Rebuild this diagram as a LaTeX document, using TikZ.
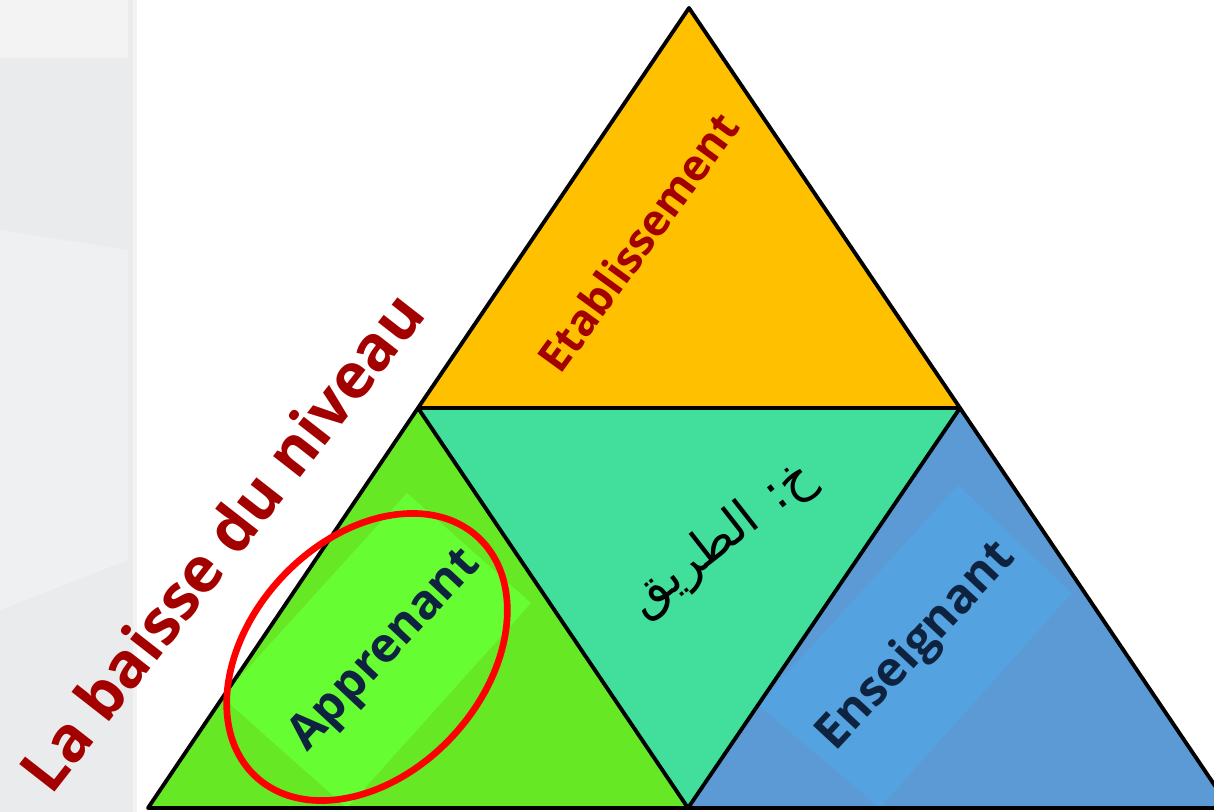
\documentclass[tikz,border=0pt]{standalone}
\usepackage{fontspec}
\setmainfont{Open Sans}
\newfontfamily\arabicfont[Script=Arabic]{DejaVu Sans}
\TeXXeTstate=1
\usetikzlibrary{shapes.geometric}
\definecolor{orangeT}{HTML}{FFC000}
\definecolor{tealT}{HTML}{41DF9B}
\definecolor{greenT}{HTML}{66E825}
\definecolor{greenD}{HTML}{66FD33}
\definecolor{blueT}{HTML}{5B9AD5}
\definecolor{blueD}{HTML}{55A2E0}
\definecolor{darkred}{HTML}{A30000}
\definecolor{navy}{HTML}{0E2340}
\definecolor{panel}{HTML}{EAEBED}
\definecolor{panelL}{HTML}{F3F3F4}
\tikzset{
  tri/.style={draw=black, line width=2.9pt, line join=round},
  lbl/.style={font=\bfseries, text=navy, inner sep=0pt},
  title/.style={font=\bfseries, text=darkred, inner sep=0pt},
}
\begin{document}
\begin{tikzpicture}[x=0.75pt, y=-0.75pt]
\useasboundingbox (0,0) rectangle (1214,812);
% left panel
\fill[panel] (0,0) rectangle (137,812);
\fill[panelL] (0,0) rectangle (128,58);
\fill[panelL!60!panel] (0,230) -- (128,250) -- (128,560) -- (0,610) -- cycle;
\fill[white!40!panel] (133,0) rectangle (137,812);
% vertices
\coordinate (apex) at (689,8);
\coordinate (ml) at (418,408);
\coordinate (mr) at (960,408);
\coordinate (bl) at (148,808);
\coordinate (bm) at (688,808);
\coordinate (br) at (1230,808);
% fills
\fill[orangeT] (apex) -- (ml) -- (mr) -- cycle;
\fill[tealT] (ml) -- (mr) -- (bm) -- cycle;
\fill[greenT] (ml) -- (bm) -- (bl) -- cycle;
\fill[blueT] (mr) -- (br) -- (bm) -- cycle;
\begin{scope}
\clip (ml) -- (bm) -- (bl) -- cycle;
\fill[greenD] (407,493) -- (531,603) -- (347,808) -- (222,697) -- cycle;
\end{scope}
\begin{scope}
\clip (mr) -- (br) -- (bm) -- cycle;
\fill[blueD] (958,485) -- (1072,593) -- (880,808) -- (758,705) -- cycle;
\end{scope}
% outlines
\draw[tri] (apex) -- (ml) -- (mr) -- cycle;
\draw[tri] (ml) -- (bm) -- (mr);
\draw[tri] (ml) -- (bl) -- (br) -- (mr);
% labels
\node[title, rotate=52, font=\bfseries\fontsize{47}{47}\selectfont] (baisse) at (221,541) {La baisse du niveau};
\node[title, rotate=54, font=\bfseries\fontsize{32.5}{32.5}\selectfont] (etab) at (638,242) {Etablissement};
\node[lbl, rotate=47, font=\bfseries\fontsize{36}{36}\selectfont] (appr) at (386,651) {Apprenant};
\node[lbl, rotate=47, font=\bfseries\fontsize{36}{36}\selectfont] (ens) at (917,647) {Enseignant};
\node[rotate=38, inner sep=0pt, text=black] (tariq) at (722,540) {\arabicfont\fontsize{37}{37}\selectfont\beginR خ: الطريق\endR};
% red ellipse
\node[ellipse, draw=red, line width=5pt, minimum width=245pt, minimum height=175pt, rotate=47] (ring) at (367,657) {};
\end{tikzpicture}
\end{document}
